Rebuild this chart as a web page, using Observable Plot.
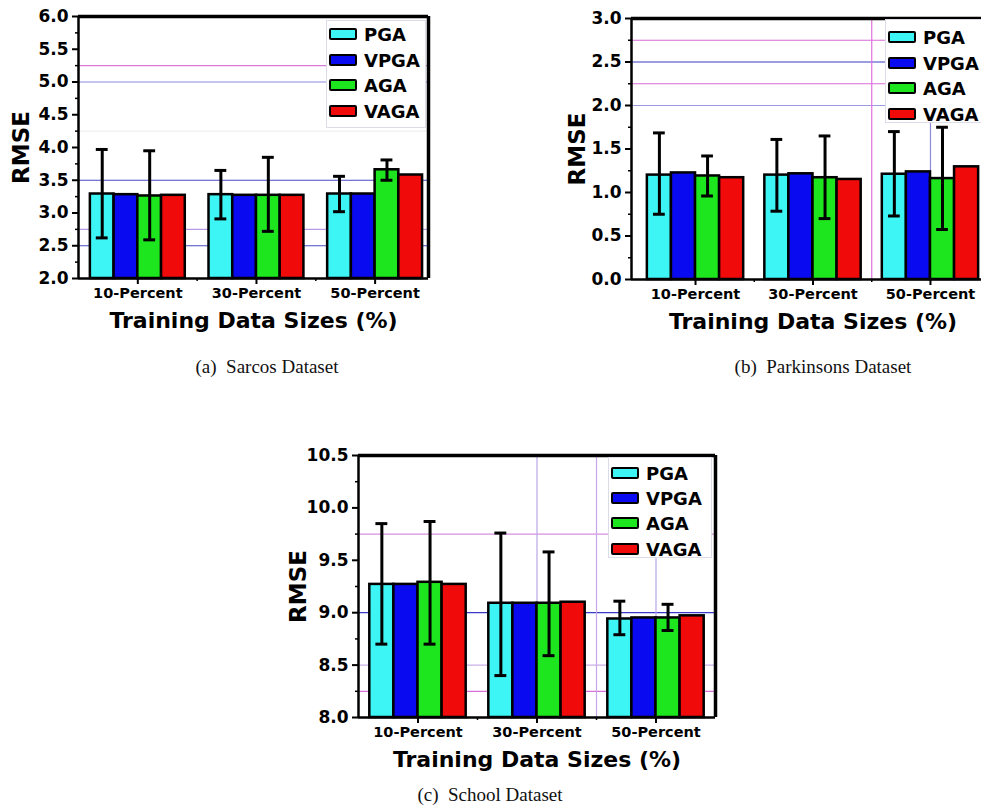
<!DOCTYPE html>
<html>
<head>
<meta charset="utf-8">
<script src="https://cdn.jsdelivr.net/npm/d3@7"></script>
<script src="https://cdn.jsdelivr.net/npm/@observablehq/plot@0.6"></script>
<style>
  html, body { margin: 0; padding: 0; background: #fff; }
  body { width: 981px; height: 812px; position: relative; overflow: hidden; }
  .panel { position: absolute; }
  .legend { position: absolute; background: #fff; border: 1px solid #dcdce8; box-sizing: border-box;
            font-family: "DejaVu Sans", sans-serif; font-weight: bold; font-size: 18px; color: #000; }
  .legend .row { position: absolute; left: 2px; display: flex; align-items: center; height: 20px; }
  .legend .sw { width: 24px; height: 8px; border: 2.5px solid #000; border-radius: 2px; margin-right: 7px; }
  .caption { position: absolute; font-family: "Liberation Serif", "Times New Roman", serif; font-size: 19px;
             color: #111; white-space: pre; transform: translate(-50%, -50%); }
</style>
</head>
<body>
<script>
// ---------- data ----------
const categories = ["10-Percent", "30-Percent", "50-Percent"];
const series = ["PGA", "VPGA", "AGA", "VAGA"];
const seriesColors = ["#3ef5f5", "#0a0af0", "#1ee61e", "#f00a0a"];

// rows: category, columns: series (PGA, VPGA, AGA, VAGA)
const sarcosMean = [[3.29, 3.28, 3.26, 3.27], [3.28, 3.27, 3.27, 3.27], [3.29, 3.29, 3.66, 3.58]];
const sarcosLow  = [[2.62, null, 2.59, null], [2.91, null, 2.72, null], [3.02, null, 3.50, null]];
const sarcosHigh = [[3.97, null, 3.95, null], [3.65, null, 3.85, null], [3.56, null, 3.81, null]];

const parkMean = [[1.20, 1.225, 1.19, 1.17], [1.20, 1.215, 1.17, 1.15], [1.21, 1.237, 1.16, 1.295]];
const parkLow  = [[0.75, null, 0.96, null], [0.785, null, 0.70, null], [0.73, null, 0.575, null]];
const parkHigh = [[1.685, null, 1.42, null], [1.61, null, 1.65, null], [1.70, null, 1.75, null]];

const schoolMean = [[9.27, 9.27, 9.29, 9.27], [9.09, 9.09, 9.09, 9.10], [8.94, 8.95, 8.95, 8.97]];
const schoolLow  = [[8.70, null, 8.70, null], [8.40, null, 8.59, null], [8.79, null, 8.83, null]];
const schoolHigh = [[9.85, null, 9.87, null], [9.76, null, 9.58, null], [9.11, null, 9.08, null]];

// y tick values
const sarcosTicks = [2.0, 2.5, 3.0, 3.5, 4.0, 4.5, 5.0, 5.5, 6.0];
const parkTicks = [0.0, 0.5, 1.0, 1.5, 2.0, 2.5, 3.0];
const schoolTicks = [8.0, 8.5, 9.0, 9.5, 10.0, 10.5];

// stray grid lines of the original figure (values and colours)
const sarcosHGridValues = [5.25, 5.0, 4.25, 3.5, 2.75, 2.5];
const sarcosHGridColors = ["#d77bd7", "#8c8ce6", "#efefef", "#4a4ac8", "#b89ae6", "#4a4ac8"];
const parkHGridValues = [2.75, 2.5, 2.25, 2.0];
const parkHGridColors = ["#d86ad8", "#3a3ac8", "#d86ad8", "#9a9ae0"];
const parkVGridValues = [2.5, 3.0];
const parkVGridColors = ["#e070e0", "#8a8ad8"];
const schoolHGridValues = [9.75, 9.0, 8.5, 8.25];
const schoolHGridColors = ["#d890e0", "#3a3ac8", "#c8b0ea", "#d870d8"];
const schoolVGridValues = [2.0, 2.5, 3.0];
const schoolVGridColors = ["#b8a6ea", "#c9a6ea", "#b8a6ea"];

const xLabel = "Training Data Sizes (%)";
const yLabel = "RMSE";

// ---------- drawing ----------
function panel(cfg) {
  const {left, top, width, height, mt, mr, mb, ml, xdom, ydom, ticks, mean, low, high,
         group, hv, hc, vv, vc, rmseDx} = cfg;
  const bw = group / series.length;
  const bars = [], errs = [];
  mean.forEach((row, i) => row.forEach((v, j) => {
    const x1 = (i + 1) - group / 2 + j * bw;
    bars.push({x1, x2: x1 + bw, y: v, c: seriesColors[j]});
    if (low[i][j] != null) errs.push({x: x1 + bw / 2, lo: low[i][j], hi: high[i][j]});
  }));
  const caps = errs.flatMap(e => [{x: e.x, y: e.lo}, {x: e.x, y: e.hi}]);
  const capHalf = 0.05;
  const minor = d3.range(ydom[0] + 0.25, ydom[1], 0.5);
  const hgrid = hv.map((v, k) => ({v, c: hc[k]}));
  const vgrid = vv.map((v, k) => ({v, c: vc[k]}));

  const chart = Plot.plot({
    width, height, marginTop: mt, marginRight: mr, marginBottom: mb, marginLeft: ml,
    x: {domain: xdom, axis: null},
    y: {domain: ydom, axis: null},
    color: {type: "identity"},
    style: {fontFamily: "DejaVu Sans, sans-serif", fontWeight: "bold", color: "#000", background: "transparent", overflow: "visible"},
    marks: [
      Plot.ruleY(hgrid, {y: "v", stroke: "c", strokeWidth: 1.2}),
      Plot.ruleX(vgrid, {x: "v", stroke: "c", strokeWidth: 1.2}),
      Plot.rectY(bars, {x1: "x1", x2: "x2", y1: ydom[0], y2: "y", fill: "c", stroke: "#000", strokeWidth: 2.5}),
      Plot.ruleX(errs, {x: "x", y1: "lo", y2: "hi", stroke: "#000", strokeWidth: 3}),
      Plot.ruleY(caps, {x1: d => d.x - capHalf, x2: d => d.x + capHalf, y: "y", stroke: "#000", strokeWidth: 3}),
      Plot.axisY({ticks, tickSize: 6, tickPadding: 4, tickFormat: d3.format(".1f"), fontSize: 17, label: null, strokeWidth: 2}),
      Plot.axisY({ticks: minor, tickSize: 3, tickFormat: () => "", label: null, strokeWidth: 1.5}),
      Plot.axisX({ticks: [1, 2, 3], tickSize: 6, tickPadding: 3, tickFormat: i => categories[i - 1], fontSize: 14.5, label: null, strokeWidth: 2}),
      Plot.axisX({ticks: [1.5, 2.5], tickSize: 3, tickFormat: () => "", label: null, strokeWidth: 1.5}),
      Plot.ruleX([xdom[0]], {stroke: "#000", strokeWidth: 2.5}),
      Plot.ruleY([ydom[0]], {stroke: "#000", strokeWidth: 2.5}),
      Plot.ruleY([ydom[1]], {stroke: "#000", strokeWidth: 3.5}),
      Plot.ruleX([xdom[1]], {stroke: "#000", strokeWidth: 3.5}),
      Plot.text([yLabel], {frameAnchor: "left", dx: rmseDx, rotate: -90, fontSize: 23, text: d => d, textAnchor: "middle"}),
      Plot.text([xLabel], {frameAnchor: "bottom", dy: 42, fontSize: 22, text: d => d, textAnchor: "middle", lineAnchor: "middle"})
    ]
  });
  chart.classList.add("panel");
  chart.style.left = left + "px";
  chart.style.top = top + "px";
  document.body.appendChild(chart);
}

function legend(left, top, w, h, rowTops) {
  const box = document.createElement("div");
  box.className = "legend";
  Object.assign(box.style, {left: left + "px", top: top + "px", width: w + "px", height: h + "px"});
  series.forEach((s, j) => {
    const row = document.createElement("div");
    row.className = "row";
    row.style.top = rowTops[j] + "px";
    const sw = document.createElement("div");
    sw.className = "sw";
    sw.style.background = seriesColors[j];
    const t = document.createElement("span");
    t.textContent = s;
    row.appendChild(sw); row.appendChild(t);
    box.appendChild(row);
  });
  document.body.appendChild(box);
}

function caption(text, cx, cy) {
  const d = document.createElement("div");
  d.className = "caption";
  d.textContent = text;
  d.style.left = cx + "px";
  d.style.top = cy + "px";
  document.body.appendChild(d);
}

// (a) Sarcos
panel({left: 0, top: 0, width: 440, height: 340, mt: 16, mr: 12, mb: 62, ml: 78,
       xdom: [0.5, 3.45], ydom: [2, 6], ticks: sarcosTicks, mean: sarcosMean, low: sarcosLow, high: sarcosHigh,
       group: 0.8, hv: sarcosHGridValues, hc: sarcosHGridColors, vv: [], vc: [], rmseDx: -57});
// (b) Parkinsons
panel({left: 560, top: 0, width: 460, height: 340, mt: 18, mr: 26, mb: 61, ml: 71,
       xdom: [0.455, 3.545], ydom: [0, 3], ticks: parkTicks, mean: parkMean, low: parkLow, high: parkHigh,
       group: 0.82, hv: parkHGridValues, hc: parkHGridColors, vv: parkVGridValues, vc: parkVGridColors, rmseDx: -54});
// (c) School
panel({left: 280, top: 440, width: 440, height: 340, mt: 15, mr: 5, mb: 63, ml: 78,
       xdom: [0.5, 3.5], ydom: [8, 10.5], ticks: schoolTicks, mean: schoolMean, low: schoolLow, high: schoolHigh,
       group: 0.81, hv: schoolHGridValues, hc: schoolHGridColors, vv: schoolVGridValues, vc: schoolVGridColors, rmseDx: -60});

legend(326, 20, 100, 108, [3, 29, 54, 80]);
legend(885, 19, 100, 104, [7, 33, 58, 84]);
legend(608, 457, 104, 101, [5, 30, 55, 81]);

caption("(a)  Sarcos Dataset", 267, 367);
caption("(b)  Parkinsons Dataset", 823, 367);
caption("(c)  School Dataset", 490, 795);
</script>
</body>
</html>
